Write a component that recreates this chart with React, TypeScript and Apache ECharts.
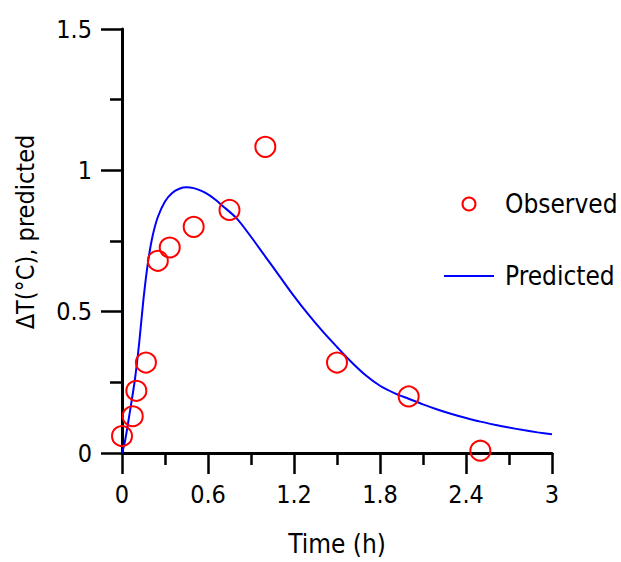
import React, { useEffect, useRef } from "react";
import * as echarts from "echarts";

const observedTime = [0, 0.075, 0.1, 0.167, 0.25, 0.333, 0.5, 0.75, 1, 1.5, 2, 2.5];
const observedValue = [0.06, 0.13, 0.22, 0.32, 0.68, 0.727, 0.8, 0.86, 1.083, 0.32, 0.2, 0.008];

const predictedTime = [
  0, 0.02, 0.05, 0.09, 0.12, 0.15, 0.18, 0.21, 0.25, 0.3, 0.35, 0.4, 0.45, 0.5, 0.55, 0.6, 0.65,
  0.7, 0.8, 0.9, 1.0, 1.1, 1.2, 1.3, 1.4, 1.5, 1.6, 1.7, 1.8, 1.9, 2.0, 2.1, 2.2, 2.3, 2.4, 2.5,
  2.6, 2.7, 2.8, 2.9, 3.0,
];
const predictedValue = [
  0, 0.04, 0.13, 0.26, 0.39, 0.545, 0.67, 0.76, 0.835, 0.89, 0.92, 0.935, 0.94, 0.937, 0.928,
  0.915, 0.897, 0.875, 0.83, 0.765, 0.695, 0.625, 0.555, 0.49, 0.43, 0.375, 0.322, 0.275, 0.238,
  0.212, 0.192, 0.172, 0.154, 0.138, 0.124, 0.111, 0.1, 0.09, 0.081, 0.073, 0.066,
];

const FONT = "'DejaVu Sans Condensed', 'DejaVu Sans', sans-serif";

export default function App() {
  const ref = useRef<HTMLDivElement>(null);
  useEffect(() => {
    document.body.style.margin = "0";
    if (!ref.current) return;
    const chart = echarts.init(ref.current, undefined, { renderer: "svg" });
    const axisCommon = {
      axisLine: { show: true, onZero: false, lineStyle: { color: "#000", width: 3 } },
      axisTick: { show: true, inside: false, length: 21, lineStyle: { color: "#000", width: 2.5 } },
      minorTick: { show: true, splitNumber: 2, length: 12, lineStyle: { color: "#000", width: 2.5 } },
      splitLine: { show: false },
      minorSplitLine: { show: false },
    };
    chart.setOption({
      animation: false,
      backgroundColor: "#fff",
      textStyle: { fontFamily: FONT },
      grid: { left: 122, right: 69, top: 29, bottom: 104, containLabel: false },
      legend: {
        orient: "vertical",
        left: 443,
        top: 191,
        padding: 0,
        itemWidth: 50,
        itemHeight: 13,
        itemGap: 46,
        textStyle: { fontFamily: FONT, fontSize: 26, color: "#000", padding: [0, 0, 0, 6] },
        data: [
          { name: "Observed" },
          { name: "Predicted", itemStyle: { opacity: 0 } },
        ],
      },
      xAxis: {
        type: "value",
        min: 0,
        max: 3,
        interval: 0.6,
        name: "Time (h)",
        nameLocation: "middle",
        nameGap: 78,
        nameTextStyle: { fontFamily: FONT, fontSize: 26, color: "#000" },
        axisLabel: { margin: 29, fontFamily: FONT, fontSize: 25, color: "#000" },
        ...axisCommon,
      },
      yAxis: {
        type: "value",
        min: 0,
        max: 1.5,
        interval: 0.5,
        name: "ΔT(°C), predicted",
        nameLocation: "middle",
        nameGap: 84,
        nameTextStyle: { fontFamily: FONT, fontSize: 25, color: "#000", padding: [0, 0, 0, 18] },
        axisLabel: { margin: 30, fontFamily: FONT, fontSize: 25, color: "#000" },
        ...axisCommon,
      },
      series: [
        {
          name: "Observed",
          type: "scatter",
          symbol: "circle",
          symbolSize: 20,
          itemStyle: { color: "rgba(0,0,0,0)", borderColor: "#ff0000", borderWidth: 2, opacity: 1 },
          data: observedTime.map((t, i) => [t, observedValue[i]]),
          z: 3,
        },
        {
          name: "Predicted",
          type: "line",
          smooth: 0.3,
          showSymbol: false,
          symbol: "none",
          lineStyle: { color: "#0000ff", width: 2 },
          itemStyle: { color: "#0000ff" },
          data: predictedTime.map((t, i) => [t, predictedValue[i]]),
          z: 2,
        },
      ],
    });
    return () => chart.dispose();
  }, []);
  return <div ref={ref} style={{ width: 621, height: 562 }} />;
}
